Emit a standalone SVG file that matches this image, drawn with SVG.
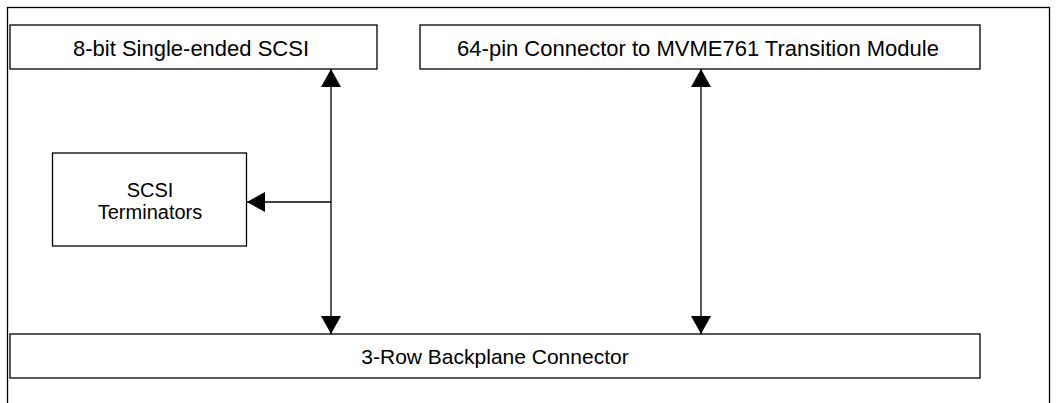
<svg xmlns="http://www.w3.org/2000/svg" width="1060" height="403" viewBox="0 0 1060 403">
<style>
.box{fill:#fff;stroke:#000;stroke-width:1.3}
.t{font-family:"Liberation Sans",Arial,sans-serif;font-size:22px;fill:#000;text-anchor:middle}
.s{font-size:20px}
.c{stroke:#000;stroke-width:1.3;fill:none}
</style>
<defs>
<marker id="ah" viewBox="0 0 18 20" refX="18" refY="10" markerWidth="18" markerHeight="20" markerUnits="userSpaceOnUse" orient="auto-start-reverse">
<path d="M0,0 L18,10 L0,20 Z" fill="#000"/>
</marker>
</defs>
<rect x="7.5" y="7.5" width="1042" height="420" fill="none" stroke="#000" stroke-width="1.3"/>
<g id="scsi8"><rect class="box" x="10" y="25" width="367" height="44"/><text class="t" x="191" y="55.5">8-bit Single-ended SCSI</text></g>
<g id="conn64"><rect class="box" x="420" y="25" width="560" height="44"/><text class="t" x="698" y="55.5">64-pin Connector to MVME761 Transition Module</text></g>
<g id="term"><rect class="box" x="52.5" y="153" width="194" height="93"/><text class="t s" x="150" y="197">SCSI</text><text class="t s" x="150" y="218.5">Terminators</text></g>
<g id="backplane"><rect class="box" x="10" y="334" width="970" height="44"/><text class="t" x="495" y="364" style="font-size:21px">3-Row Backplane Connector</text></g>
<g id="connectors">
<line class="c" x1="331" y1="69" x2="331" y2="334" marker-start="url(#ah)" marker-end="url(#ah)"/>
<line class="c" x1="701" y1="69" x2="701" y2="334" marker-start="url(#ah)" marker-end="url(#ah)"/>
<line class="c" x1="331" y1="202" x2="247" y2="202" marker-end="url(#ah)"/>
</g>
</svg>
